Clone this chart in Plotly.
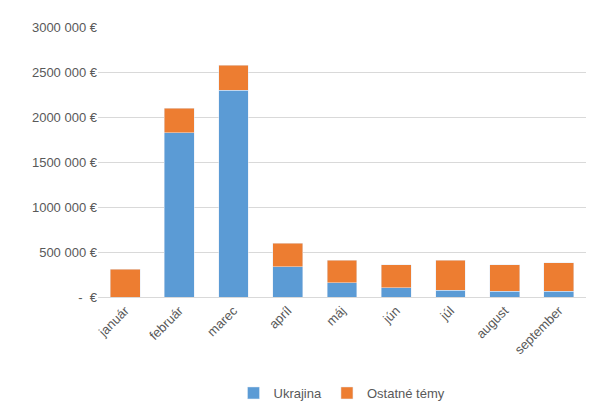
import plotly.graph_objects as go

months = ['január', 'február', 'marec', 'apríl', 'máj', 'jún', 'júl', 'august', 'september']
ukrajina = [0, 1827000, 2300000, 338000, 158000, 105000, 74000, 63000, 63000]
ostatne = [306000, 273000, 277000, 262000, 252000, 255000, 336000, 297000, 317000]
tick_vals = [0, 500000, 1000000, 1500000, 2000000, 2500000, 3000000]
tick_text = ['-  €', '500 000 €', '1000 000 €', '1500 000 €', '2000 000 €', '2500 000 €', '3000 000 €']

fig = go.Figure()
fig.add_trace(go.Bar(x=months, y=ukrajina, name='Ukrajina', marker_color='#5B9BD5'))
fig.add_trace(go.Bar(x=months, y=ostatne, name='Ostatné témy', marker_color='#ED7D31'))

fig.update_layout(
    barmode='stack',
    bargap=0.45,
    width=594,
    height=412,
    plot_bgcolor='white',
    paper_bgcolor='white',
    font=dict(family='Liberation Sans, Arial', size=13, color='#595959'),
    margin=dict(l=90, r=16, t=16, b=112),
    legend=dict(orientation='h', x=0.5, xanchor='center', y=-0.3, yanchor='top',
                traceorder='normal'),
    xaxis=dict(tickangle=-45, showline=True, linecolor='#d9d9d9'),
    yaxis=dict(range=[0, 3000000], tickvals=tick_vals, ticktext=tick_text,
               gridcolor='#d9d9d9', zeroline=False),
)

fig.write_html('out.html')
